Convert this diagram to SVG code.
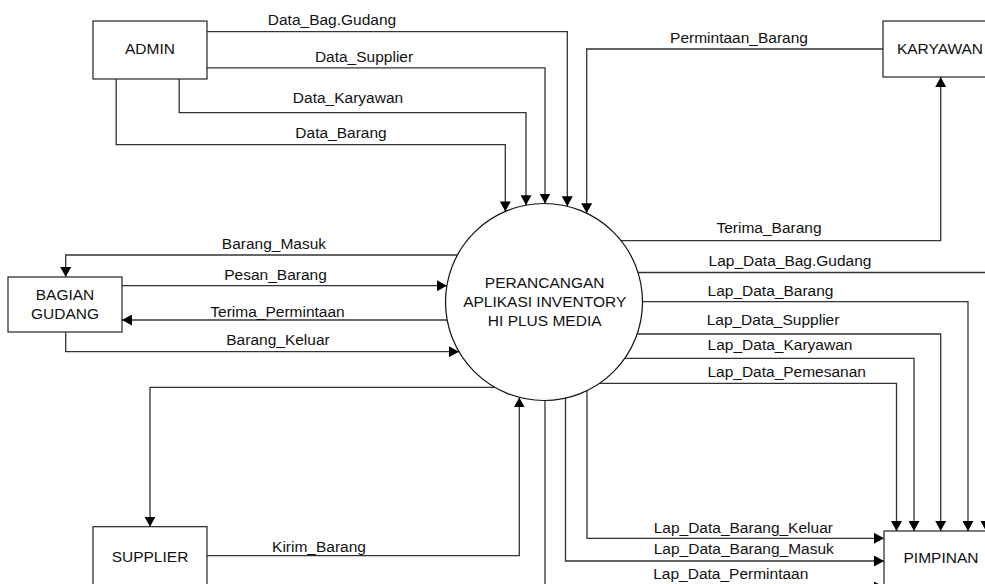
<svg xmlns="http://www.w3.org/2000/svg" width="985" height="584" viewBox="0 0 985 584">
<defs>
<marker id="arr" viewBox="0 0 10 11" markerUnits="userSpaceOnUse" markerWidth="10" markerHeight="11" refX="10" refY="5.5" orient="auto">
<path d="M0,0 L10,5.5 L0,11 z" fill="#000"/>
</marker>
<style>
text{font-family:"Liberation Sans",Arial,sans-serif;font-size:15.5px;fill:#111;}
.lbl{text-anchor:middle;}
.box{fill:#fff;stroke:#222;stroke-width:1.2;}
.c{fill:none;stroke:#333;stroke-width:1.3;}
.a{marker-end:url(#arr);}
</style>
</defs>
<rect width="985" height="584" fill="#fff"/>
<g id="connectors">
<polyline class="c a" points="207,31.7 567.3,31.7 567.3,206.3"/>
<polyline class="c a" points="207,67.8 545,67.8 545,203.5"/>
<polyline class="c a" points="179.2,79 179.2,112.6 526,112.6 526,205.2"/>
<polyline class="c a" points="116.2,79 116.2,144.6 505.3,144.6 505.3,211.4"/>
<polyline class="c a" points="883,49 586.7,49 586.7,213.2"/>
<polyline class="c a" points="621.1,240.7 940.7,240.7 940.7,77"/>
<polyline class="c a" points="457.4,255 65.7,255 65.7,277"/>
<polyline class="c a" points="122,285.7 446.9,285.7"/>
<polyline class="c a" points="447.2,320 122,320"/>
<polyline class="c a" points="65.7,332 65.7,351.7 459,351.7"/>
<polyline class="c a" points="494.8,387.3 150,387.3 150,526.7"/>
<polyline class="c a" points="207,555.7 519.3,555.7 519.3,397.4"/>
<polyline class="c a" points="638,272.5 986,272.5 986,531"/>
<polyline class="c a" points="642.5,301.7 968,301.7 968,531"/>
<polyline class="c a" points="637.2,334 940.7,334 940.7,531"/>
<polyline class="c a" points="624.8,358.3 914,358.3 914,531"/>
<polyline class="c a" points="599.6,383.3 896.5,383.3 896.5,531"/>
<polyline class="c a" points="587,390.6 587,538.3 884,538.3"/>
<polyline class="c a" points="565.5,398.1 565.5,561 884,561"/>
<polyline class="c a" points="545,400.5 545,587 884,587"/>
</g>
<g id="labels">
<text class="lbl" x="332" y="25">Data_Bag.Gudang</text>
<text class="lbl" x="364" y="62">Data_Supplier</text>
<text class="lbl" x="348" y="103.3">Data_Karyawan</text>
<text class="lbl" x="341" y="137.7">Data_Barang</text>
<text class="lbl" x="739" y="43.3">Permintaan_Barang</text>
<text class="lbl" x="769" y="233.3">Terima_Barang</text>
<text class="lbl" x="274" y="249.3">Barang_Masuk</text>
<text class="lbl" x="275.5" y="280">Pesan_Barang</text>
<text class="lbl" x="277.5" y="316.7">Terima_Permintaan</text>
<text class="lbl" x="278" y="345">Barang_Keluar</text>
<text class="lbl" x="790" y="265.7">Lap_Data_Bag.Gudang</text>
<text class="lbl" x="770.5" y="296">Lap_Data_Barang</text>
<text class="lbl" x="773" y="325">Lap_Data_Supplier</text>
<text class="lbl" x="780" y="350">Lap_Data_Karyawan</text>
<text class="lbl" x="786.7" y="376.7">Lap_Data_Pemesanan</text>
<text class="lbl" x="319" y="551.7">Kirim_Barang</text>
<text class="lbl" x="743.3" y="533.3">Lap_Data_Barang_Keluar</text>
<text class="lbl" x="743.8" y="554.3">Lap_Data_Barang_Masuk</text>
<text class="lbl" x="730.8" y="579.3">Lap_Data_Permintaan</text>
</g>
<g id="admin">
<rect class="box" x="93" y="21" width="114" height="58"/>
<text class="lbl" x="150" y="54.3">ADMIN</text>
</g>
<g id="karyawan">
<rect class="box" x="883" y="21" width="114" height="56"/>
<text class="lbl" x="940" y="54.3">KARYAWAN</text>
</g>
<g id="bagian-gudang">
<rect class="box" x="8" y="277" width="114" height="55"/>
<text class="lbl" x="65" y="300">BAGIAN</text>
<text class="lbl" x="65" y="319">GUDANG</text>
</g>
<g id="supplier">
<rect class="box" x="93" y="526.7" width="114" height="60"/>
<text class="lbl" x="150" y="561.7">SUPPLIER</text>
</g>
<g id="pimpinan">
<rect class="box" x="884" y="531" width="114" height="60"/>
<text class="lbl" x="941" y="563.3">PIMPINAN</text>
</g>
<g id="process">
<circle cx="544" cy="302" r="98.5" fill="#fff" stroke="#111" stroke-width="1.2"/>
<text class="lbl" x="544.7" y="288.3">PERANCANGAN</text>
<text class="lbl" x="544.7" y="306.7">APLIKASI INVENTORY</text>
<text class="lbl" x="544.7" y="325.7">HI PLUS MEDIA</text>
</g>
</svg>
